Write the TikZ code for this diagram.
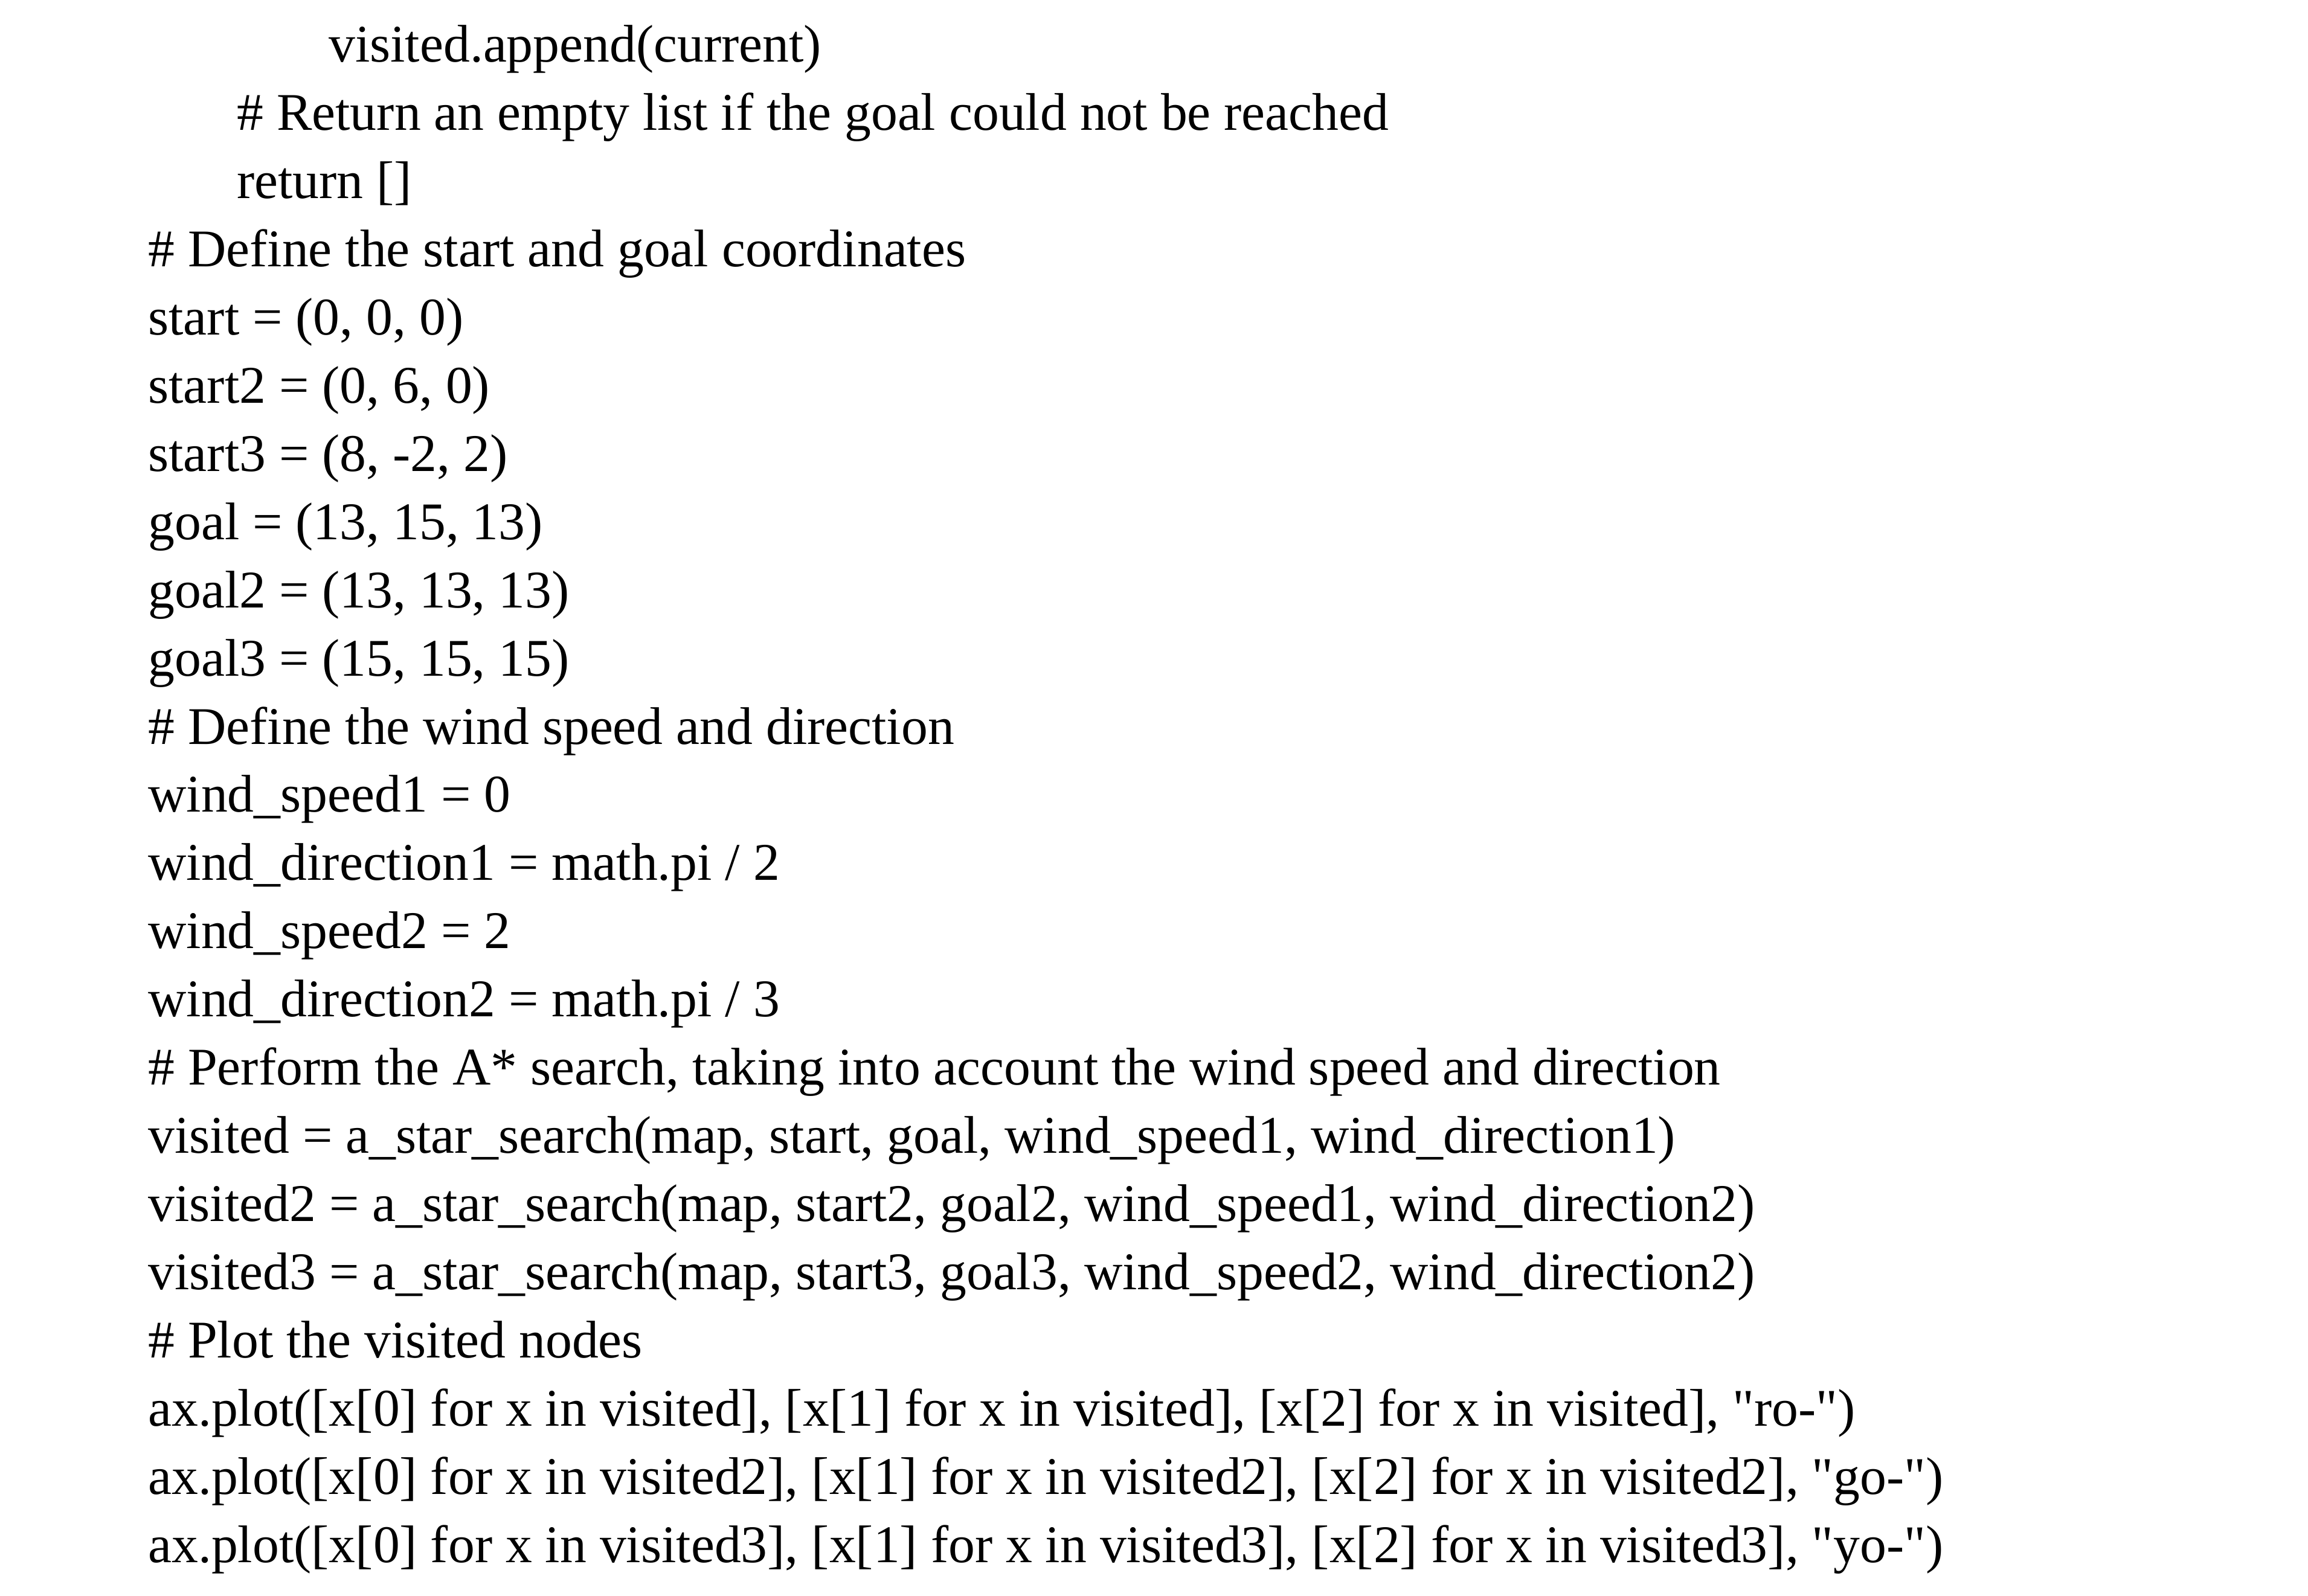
\documentclass[tikz,border=0pt]{standalone}
\usepackage{fontspec}
\setmainfont{Liberation Serif}[Ligatures=TeXOff]
\begin{document}
\begin{tikzpicture}[x=1pt,y=1pt,txt/.style={anchor=base west,inner sep=0pt,font=\fontsize{35.8}{40}\selectfont}]
\useasboundingbox (0,0) rectangle (1560,1079);
\def\bl#1{1079-42-(#1-1)*46.1}
\node[txt] (l1) at (222,{\bl{1}}) {visited.append(current)};
\node[txt] (l2) at (160,{\bl{2}}) {\# Return an empty list if the goal could not be reached};
\node[txt] (l3) at (160,{\bl{3}}) {return []};
\node[txt] (l4) at (100,{\bl{4}}) {\# Define the start and goal coordinates};
\node[txt] (l5) at (100,{\bl{5}}) {start = (0, 0, 0)};
\node[txt] (l6) at (100,{\bl{6}}) {start2 = (0, 6, 0)};
\node[txt] (l7) at (100,{\bl{7}}) {start3 = (8, -2, 2)};
\node[txt] (l8) at (100,{\bl{8}}) {goal = (13, 15, 13)};
\node[txt] (l9) at (100,{\bl{9}}) {goal2 = (13, 13, 13)};
\node[txt] (l10) at (100,{\bl{10}}) {goal3 = (15, 15, 15)};
\node[txt] (l11) at (100,{\bl{11}}) {\# Define the wind speed and direction};
\node[txt] (l12) at (100,{\bl{12}}) {wind\_speed1 = 0};
\node[txt] (l13) at (100,{\bl{13}}) {wind\_direction1 = math.pi / 2};
\node[txt] (l14) at (100,{\bl{14}}) {wind\_speed2 = 2};
\node[txt] (l15) at (100,{\bl{15}}) {wind\_direction2 = math.pi / 3};
\node[txt] (l16) at (100,{\bl{16}}) {\# Perform the A* search, taking into account the wind speed and direction};
\node[txt] (l17) at (100,{\bl{17}}) {visited = a\_star\_search(map, start, goal, wind\_speed1, wind\_direction1)};
\node[txt] (l18) at (100,{\bl{18}}) {visited2 = a\_star\_search(map, start2, goal2, wind\_speed1, wind\_direction2)};
\node[txt] (l19) at (100,{\bl{19}}) {visited3 = a\_star\_search(map, start3, goal3, wind\_speed2, wind\_direction2)};
\node[txt] (l20) at (100,{\bl{20}}) {\# Plot the visited nodes};
\node[txt] (l21) at (100,{\bl{21}}) {ax.plot([x[0] for x in visited], [x[1] for x in visited], [x[2] for x in visited], "ro-")};
\node[txt] (l22) at (100,{\bl{22}}) {ax.plot([x[0] for x in visited2], [x[1] for x in visited2], [x[2] for x in visited2], "go-")};
\node[txt] (l23) at (100,{\bl{23}}) {ax.plot([x[0] for x in visited3], [x[1] for x in visited3], [x[2] for x in visited3], "yo-")};
\end{tikzpicture}
\end{document}
